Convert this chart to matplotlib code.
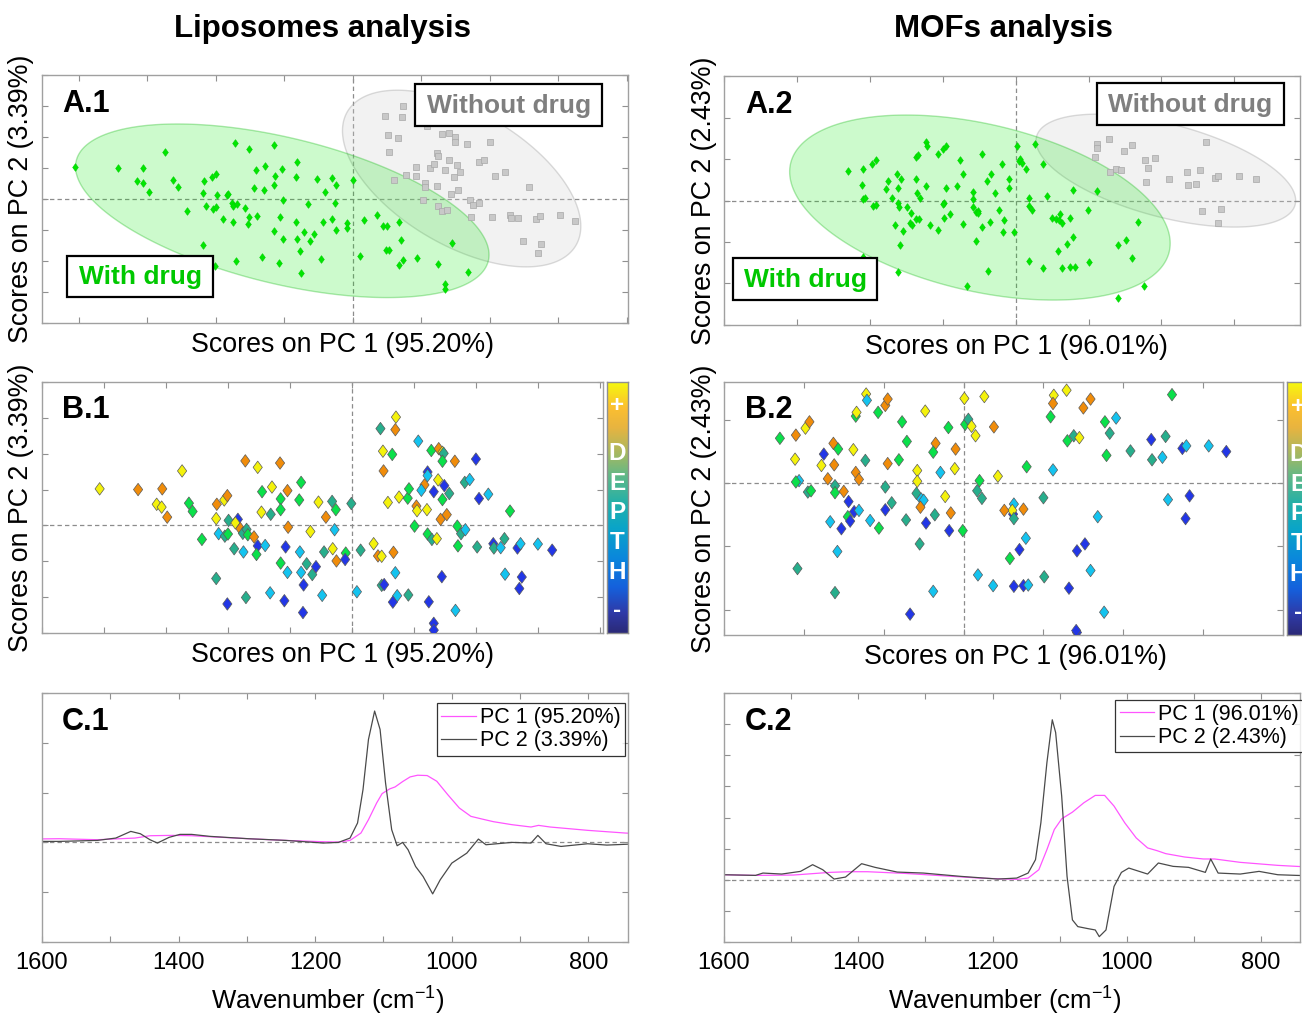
import numpy as np
import matplotlib
matplotlib.use('Agg')
import matplotlib.pyplot as plt
from matplotlib.path import Path
from matplotlib.patches import Polygon, Rectangle
from matplotlib.colors import LinearSegmentedColormap
from matplotlib.ticker import MultipleLocator, FuncFormatter

plt.rcParams['font.family'] = ['Liberation Sans', 'DejaVu Sans']
plt.rcParams['mathtext.fontset'] = 'custom'
plt.rcParams['mathtext.rm'] = 'Liberation Sans'

# ---------------- data ----------------
titles = ['Liposomes analysis', 'MOFs analysis']
pc1_var = ['95.20%', '96.01%']
pc2_var = ['3.39%', '2.43%']

# A.1 scores (liposomes)
a1_drug_x = [-4.06,-3.43,-3.06,-2.74,-3.15,-3.06,-2.97,-2.62,-2.55,-2.42,-2.19,-2.17,-2.15,-2.05,-2.00,-2.04,-2.00,-1.98,-1.90,-1.84,-1.83,-1.77,-1.75,-1.75,-1.72,-1.69,-1.57,-1.53,-1.52,-1.51,-1.45,-1.42,-1.40,-1.30,-1.28,-1.32,-1.15,-1.14,-1.15,-1.15,-1.08,-1.06,-1.04,-1.02,-1.02,-0.83,-0.82,-0.83,-0.81,-0.77,-0.76,-0.72,-0.65,-0.63,-0.56,-0.53,-0.47,-0.43,-0.41,-0.31,-0.30,-0.26,-0.25,-0.24,-0.09,-0.09,0.01,0.10,0.16,0.36,0.44,0.50,0.49,0.53,0.68,0.70,0.67,0.74,0.94,1.25,1.34,1.34,1.45,1.69,-2.19,-1.70,-2.02]
a1_drug_y = [1.02,0.99,1.01,1.52,0.59,0.52,0.23,0.62,0.39,-0.39,0.19,0.58,-0.23,0.71,0.82,-0.32,-0.26,0.13,-0.66,0.13,0.17,-0.13,-0.24,-0.75,1.80,-0.15,-0.30,-0.80,1.61,-0.57,0.35,0.94,-0.54,0.30,1.06,-1.87,1.74,0.74,0.45,-1.03,-2.08,-0.58,0.98,-0.04,-1.29,0.71,1.19,-0.74,-1.30,-1.67,-2.40,-1.08,-0.17,-1.37,-1.14,0.65,-1.94,-0.74,0.24,0.67,-0.65,-0.12,0.45,-0.99,-0.77,-0.95,0.60,-1.83,-0.69,-0.51,-0.86,-0.86,-1.66,-1.66,-0.75,-1.31,-2.12,-1.96,-1.91,-2.11,-2.74,-2.89,-1.42,-2.35,-1.47,-2.01,-2.17]
a1_nodrug_x = [0.74,0.47,0.72,1.09,0.51,0.66,1.30,1.41,1.49,1.49,1.67,2.01,0.53,1.23,1.24,1.41,1.84,1.92,0.93,1.13,1.19,1.34,1.52,1.57,1.48,0.77,0.92,0.60,1.06,1.06,1.23,1.44,1.54,2.08,2.22,2.57,1.03,1.71,1.76,1.85,1.24,1.31,1.38,1.73,2.03,2.30,2.31,2.42,2.68,2.73,3.02,3.24,2.48,2.75,2.71]
a1_nodrug_y = [3.01,2.69,2.66,2.34,2.06,1.97,2.11,2.12,1.99,1.84,1.78,1.85,1.53,1.49,1.39,1.27,1.20,1.27,1.04,0.99,1.12,0.95,1.09,0.88,0.71,0.77,0.75,0.62,0.52,0.40,0.43,0.16,0.28,0.74,0.86,0.40,-0.03,-0.02,-0.19,-0.14,-0.24,-0.39,-0.35,-0.57,-0.57,-0.52,-0.62,-0.61,-0.63,-0.54,-0.53,-0.70,-1.35,-1.44,-1.74]

# A.2 scores (MOFs)
a2_drug_x = [-2.30,-2.09,-1.97,-1.92,-2.11,-2.09,-2.07,-1.96,-1.91,-1.78,-1.75,-1.70,-1.63,-1.61,-1.62,-1.60,-1.57,-1.49,-1.44,-1.54,-1.66,-1.45,-1.42,-1.37,-1.37,-1.34,-1.35,-1.31,-1.36,-1.32,-1.23,-1.23,-1.22,-1.17,-1.07,-1.06,-0.99,-0.96,-0.98,-0.99,-0.98,-0.95,-0.90,-0.81,-0.77,-0.72,-0.72,-0.58,-0.58,-0.58,-0.55,-0.52,-0.51,-0.46,-0.46,-0.39,-0.34,-0.35,-0.29,-0.23,-0.19,-0.18,-0.16,-0.09,-0.09,-0.02,0.02,0.04,0.06,0.09,0.14,0.19,0.18,0.23,0.26,0.38,0.43,0.50,0.55,0.59,0.61,0.63,0.74,0.79,0.78,0.70,0.58,0.99,1.12,1.68,1.41,1.52,1.60,1.01,0.63,0.75,0.81,0.37,0.18,-0.38,-0.67,-0.55,-1.61,-1.58,-2.09,1.76,1.41]
a2_drug_y = [0.71,0.76,0.87,0.97,0.37,0.03,0.05,-0.14,-0.12,0.27,0.46,0.07,0.63,0.29,-0.05,-0.15,0.53,-0.15,-0.29,-0.73,-0.60,-0.55,-0.60,0.52,1.05,1.10,0.17,0.06,-0.44,-0.44,0.35,1.40,1.31,-0.60,1.12,-0.71,1.23,1.31,-0.05,-0.08,-0.42,0.29,-0.32,0.35,0.97,0.65,-0.57,0.20,0.03,-0.15,-0.27,-0.26,-0.31,1.13,-0.63,0.48,0.63,-0.51,0.18,-0.22,0.87,-0.76,-0.48,0.53,0.31,-0.77,1.32,0.94,0.99,0.91,0.75,0.05,-0.13,-0.24,1.37,0.89,0.10,-0.43,-0.44,-0.47,-0.32,-0.55,-0.41,0.26,-0.87,-1.06,-1.21,-0.24,0.22,-0.53,-1.07,-0.96,-1.39,-1.49,-1.63,-1.61,-1.61,-1.62,-1.45,-1.70,-2.06,-0.97,-1.73,-1.07,-1.35,-2.05,-2.35]
a2_nodrug_x = [1.12,1.28,1.11,1.09,1.48,1.60,1.77,1.91,1.82,1.38,1.45,1.30,1.79,2.10,2.35,2.53,2.36,2.48,2.61,2.74,2.78,3.07,3.29,2.55,2.82,2.78]
a2_nodrug_y = [1.37,1.47,1.27,1.05,1.19,1.33,0.97,1.02,0.78,0.76,0.73,0.68,0.44,0.52,0.69,0.74,0.37,0.40,1.40,0.55,0.59,0.58,0.51,-0.26,-0.20,-0.55]

# confidence ellipses (centre, covariance) per group
a1_drug_centre, a1_drug_cov = (-1.03, -0.38), [[9.12, -4.29], [-4.29, 7.84]]
a1_nodrug_centre, a1_nodrug_cov = (1.59, 0.66), [[3.03, -2.68], [-2.68, 8.12]]
a2_drug_centre, a2_drug_cov = (-0.49, -0.17), [[6.81, -2.25], [-2.25, 4.97]]
a2_nodrug_centre, a2_nodrug_cov = (2.06, 0.72), [[3.17, -1.28], [-1.28, 1.85]]

# B.1 scores coloured by depth (1 = deep ... 6 = shallow)
b1_x = [-4.07,-3.45,-3.06,-3.15,-3.07,-2.98,-2.74,-2.63,-2.57,-2.42,-2.18,-2.19,-2.06,-2.01,-1.99,-2.15,-2.05,-2.00,-1.84,-1.88,-1.80,-1.76,-1.70,-1.68,-1.58,-1.72,-1.52,-1.45,-1.29,-1.46,-1.31,-1.16,-1.04,-1.15,-1.15,-1.03,-0.82,-0.85,-1.90,-1.75,-1.52,-1.54,-1.40,-1.07,-0.84,-1.15,-1.04,-0.82,-0.73,-0.64,-0.58,-0.78,-0.79,-1.09,-1.32,-1.71,-2.01,-2.19,-0.54,-0.32,-0.26,-0.42,-0.28,-0.67,-0.45,-0.31,-0.25,-0.10,-0.11,-0.48,-0.01,0.08,0.14,0.35,0.42,0.48,0.67,0.46,0.71,0.70,0.50,0.65,0.51,0.58,0.76,0.90,0.92,1.04,1.05,1.21,1.01,1.07,1.28,1.40,1.46,1.48,1.46,1.22,1.22,1.17,1.12,1.32,1.39,1.49,1.57,1.46,1.43,1.53,1.66,1.70,1.76,1.83,1.82,1.90,2.00,2.05,2.20,2.55,1.22,1.29,1.37,1.71,2.02,2.28,2.29,2.40,2.46,2.67,2.72,3.00,3.23,2.47,2.74,2.70,0.70,0.48,0.52,0.73,0.91,0.66,1.24,1.45,1.67,1.32,1.32]
b1_y = [1.02,1.00,1.02,0.59,0.51,0.23,1.52,0.62,0.39,-0.39,0.59,0.19,0.71,0.83,0.14,-0.23,-0.30,-0.24,0.17,0.07,-0.09,-0.22,-0.11,-0.26,-0.32,1.80,1.62,0.94,1.07,0.37,0.31,1.74,0.97,0.74,0.44,-0.05,1.20,0.71,-0.65,-0.74,-0.57,-0.81,-0.56,-0.60,-0.74,-1.05,-1.31,-1.31,-1.07,-1.37,-1.15,-1.66,-2.43,-2.10,-1.88,-2.01,-2.19,-1.48,0.65,0.67,0.44,0.23,-0.12,-0.17,-0.74,-0.65,-0.99,-0.77,-0.95,-1.95,0.61,-1.85,-0.69,-0.51,-0.85,-0.86,-0.75,2.70,3.02,2.67,2.07,1.98,1.52,0.64,0.79,0.76,1.02,0.54,0.41,0.44,-0.02,2.35,2.09,2.14,2.04,2.01,1.79,1.49,1.39,1.13,0.98,0.94,1.27,1.11,0.89,0.72,0.17,0.30,1.79,-0.02,-0.23,-0.12,1.20,1.28,1.85,0.75,0.87,0.40,-0.24,-0.39,-0.37,-0.57,-0.60,-0.51,-0.63,-0.62,-0.37,-0.63,-0.51,-0.52,-0.69,-1.36,-1.44,-1.76,-1.32,-1.67,-1.65,-1.96,-1.94,-2.14,-2.13,-1.43,-2.37,-2.73,-2.92]
b1_depth = [6,5,5,6,6,5,6,4,4,4,5,6,6,5,3,2,3,4,1,6,5,3,3,4,5,5,6,4,6,6,3,5,5,4,4,5,4,4,3,2,1,4,2,1,2,4,2,2,3,3,1,1,1,1,2,3,1,3,6,3,4,5,2,6,3,6,5,4,1,2,3,2,3,6,5,6,5,3,6,5,6,4,5,6,6,4,4,5,6,6,4,2,4,5,6,3,4,1,2,5,2,1,6,1,3,4,5,5,5,4,3,2,3,2,1,1,2,4,4,3,6,4,3,1,3,2,3,1,2,2,1,2,1,1,2,3,1,2,3,1,1,1,2,1,1]

# B.2 scores coloured by depth
b2_x = [-2.30,-2.10,-1.98,-1.93,-2.11,-1.78,-1.75,-1.63,-1.57,-1.62,-1.38,-1.23,-1.35,-1.34,-1.22,-1.21,-1.07,-0.98,-0.95,-0.77,-0.71,-0.48,-0.35,-0.38,-0.19,-0.10,-0.11,-0.29,-0.58,-0.58,-0.81,-0.95,-1.35,-1.31,-1.70,-2.06,-2.10,-1.95,-1.91,-1.61,-1.61,-1.50,-1.44,-1.37,-1.31,-1.45,-1.42,-1.53,-1.67,-1.17,-1.06,-0.98,-0.98,-0.90,-0.72,-0.59,-0.53,-0.50,-0.54,-0.36,-0.47,-0.23,-0.16,-0.18,-0.01,-0.55,-1.58,-2.08,-1.61,-0.38,-0.67,0.01,0.26,0.02,0.06,0.10,0.15,0.38,0.20,0.17,0.23,0.43,0.79,1.12,0.63,0.62,0.61,0.63,0.51,0.75,1.00,0.78,0.70,0.58,0.18,0.37,0.63,0.75,0.81,1.01,1.32,1.42,1.52,1.59,1.68,1.76,1.42,1.41,1.13,1.12,1.29,1.59,1.50,1.09,1.30,1.38,1.45,1.77,1.83,1.91,1.79,2.09,2.35,2.36,2.49,2.53,2.61,2.74,2.79,3.07,3.29,2.56,2.83,2.78]
b2_y = [0.71,0.76,0.87,0.97,0.38,0.28,0.46,0.63,0.54,0.29,0.53,0.36,1.06,1.12,1.41,1.31,1.12,1.23,1.33,0.97,0.66,1.14,0.63,0.49,0.88,0.54,0.23,0.17,0.20,0.03,0.37,0.31,0.17,0.06,0.07,0.04,0.02,-0.14,-0.12,-0.04,-0.15,-0.13,-0.29,-0.45,-0.43,-0.53,-0.60,-0.72,-0.61,-0.59,-0.71,-0.42,-0.06,-0.31,-0.58,-0.16,-0.25,-0.27,-0.38,-0.50,-0.63,-0.21,-0.47,-0.75,-0.75,-0.96,-1.08,-1.35,-1.73,-1.71,-2.07,1.34,1.37,0.93,1.01,0.90,0.75,0.89,0.04,-0.12,-0.24,0.11,0.26,0.21,-0.33,-0.49,-0.43,-0.56,-0.43,-0.41,-0.23,-0.87,-1.05,-1.19,-1.45,-1.62,-1.63,-1.62,-1.61,-1.48,-1.66,-1.07,-0.96,-1.38,-0.53,-2.04,-2.36,-2.33,1.39,1.26,1.47,1.33,1.19,1.05,0.67,0.75,0.72,0.97,0.79,1.03,0.44,0.51,0.69,0.37,0.41,0.74,1.40,0.55,0.59,0.59,0.50,-0.26,-0.20,-0.56]
b2_depth = [4,5,6,5,6,6,1,5,4,5,6,3,4,6,6,2,4,5,5,4,4,6,5,4,4,5,6,2,6,6,4,5,5,5,5,2,4,3,4,3,4,5,1,1,2,4,1,1,2,2,4,1,3,3,3,3,2,2,5,3,1,6,5,1,4,3,2,3,3,2,1,6,6,4,3,6,6,5,4,3,3,6,4,2,2,1,6,3,5,5,3,2,1,4,2,2,1,1,2,3,1,1,1,2,2,2,1,1,6,5,6,5,5,4,4,3,6,4,3,2,4,3,1,3,2,3,4,1,2,2,1,2,1,1]

depth_colors = {6: '#f4f20c', 5: '#f08c0a', 4: '#0ae04a', 3: '#27ae8c', 2: '#14c3ef', 1: '#2236e6'}
depth_letters = ['+', 'D', 'E', 'P', 'T', 'H', '-']

# C loadings
c1_wn = [1600,1575,1519,1492,1470,1456,1442,1431,1414,1398,1381,1354,1298,1243,1188,1166,1149,1138,1130,1122,1113,1105,1097,1088,1080,1072,1064,1053,1042,1028,1017,1000,978,961,950,912,884,874,862,840,801,773,727]
c1_pc2 = [0.002,0.002,0.004,0.0087,0.0221,0.0174,0.0054,-0.0013,0.0101,0.0161,0.0161,0.0121,0.0074,0.004,-0.0013,0.0,0.0087,0.0389,0.106,0.2067,0.2638,0.2268,0.1195,0.0255,-0.0067,0.0,-0.0148,-0.0483,-0.0685,-0.1034,-0.0752,-0.0416,-0.0215,0.0067,-0.0047,0.0,-0.0013,0.0141,-0.0027,-0.0081,-0.0027,-0.0054,-0.0027]
c1_wn_pc1 = [1600,1575,1519,1464,1442,1409,1381,1354,1298,1243,1188,1166,1149,1133,1122,1110,1102,1091,1083,1072,1061,1050,1036,1022,1006,989,972,956,939,912,884,873,856,801,746,727]
c1_pc1 = [0.007,0.0074,0.0054,0.0087,0.0134,0.0141,0.0134,0.0114,0.0074,0.004,0.0013,0.0007,0.004,0.0188,0.0456,0.0792,0.098,0.1074,0.1114,0.1221,0.1315,0.1349,0.1342,0.1228,0.096,0.0691,0.0523,0.047,0.0416,0.0356,0.0309,0.0342,0.0309,0.0242,0.0188,0.0174]

c2_wn_pc1 = [1600,1553,1497,1442,1414,1386,1331,1275,1219,1164,1147,1131,1119,1108,1097,1081,1064,1047,1033,1019,1003,986,969,955,942,914,886,869,831,775,747,727]
c2_pc1 = [0.0161,0.014,0.0151,0.0237,0.0258,0.0258,0.0204,0.0129,0.0054,0.0011,0.0054,0.0323,0.0968,0.1613,0.1957,0.2172,0.2473,0.271,0.271,0.2366,0.1828,0.1344,0.1022,0.0935,0.0839,0.0731,0.0667,0.0667,0.0559,0.0462,0.043,0.041]
c2_wn = [1600,1553,1542,1514,1486,1468,1453,1436,1419,1395,1375,1342,1303,1247,1192,1164,1147,1136,1128,1119,1111,1106,1097,1089,1081,1073,1058,1047,1041,1031,1019,1008,997,969,953,931,908,883,875,864,831,803,775,747,727]
c2_pc2 = [0.0161,0.014,0.0215,0.0183,0.0269,0.0484,0.0323,0.0022,0.0086,0.0516,0.0398,0.0247,0.0215,0.0108,0.0022,0.0054,0.0215,0.0645,0.1828,0.3763,0.514,0.4731,0.2688,0.0108,-0.129,-0.1505,-0.157,-0.1613,-0.1828,-0.1613,-0.0215,0.0237,0.0376,0.0183,0.0538,0.043,0.0398,0.0237,0.0667,0.0215,0.0183,0.0269,0.0161,0.014,0.013]

# ---------------- figure ----------------
W, H = 1302, 1015
fig = plt.figure(figsize=(W / 100, H / 100), dpi=100)

def add_ax(l, t, r, b):
    return fig.add_axes([l / W, 1 - b / H, (r - l) / W, (b - t) / H])

def fx(p): return p / W
def fy(p): return 1 - p / H

FRAME = '#a0a0a0'
DASH = '#8c8c8c'
LABEL_FS = 19.3

def style(ax):
    for s in ax.spines.values():
        s.set_color(FRAME)
        s.set_linewidth(1.0)
    ax.tick_params(which='both', direction='in', top=True, right=True, length=4.5,
                   width=0.8, color='#909090', labelbottom=False, labelleft=False)

diamond = Path([(0, 1), (0.74, 0), (0, -1), (-0.74, 0), (0, 1)],
               [Path.MOVETO, Path.LINETO, Path.LINETO, Path.LINETO, Path.CLOSEPOLY])

def ellipse(ax, centre, cov, fc, ec):
    vals, vecs = np.linalg.eigh(np.array(cov, dtype=float))
    t = np.linspace(0, 2 * np.pi, 300)
    circ = np.vstack([np.cos(t), np.sin(t)])
    pts = (vecs @ np.diag(np.sqrt(vals)) @ circ).T + np.array(centre)
    ax.add_patch(Polygon(pts, closed=True, facecolor=fc, edgecolor=ec, lw=1.0, zorder=1))

def label_box(ax, x0, y0, x1, y1, text, color):
    ax.add_patch(Rectangle((x0, y0), x1 - x0, y1 - y0, transform=ax.transAxes,
                           facecolor='white', edgecolor='black', lw=1.6, zorder=5))
    ax.text((x0 + x1) / 2, (y0 + y1) / 2 - 0.005, text, transform=ax.transAxes, ha='center',
            va='center', fontsize=19, fontweight='bold', color=color, zorder=6)

def dashes(ax, vertical=True):
    ax.axhline(0, color=DASH, lw=0.9, ls=(0, (3.5, 2.5)), zorder=0.5)
    if vertical:
        ax.axvline(0, color=DASH, lw=0.9, ls=(0, (3.5, 2.5)), zorder=0.5)

def score_labels(ax, i, xl, yl_x, yl_y):
    ax.set_xlabel(f'Scores on PC 1 ({pc1_var[i]})', fontsize=LABEL_FS)
    ax.set_ylabel(f'Scores on PC 2 ({pc2_var[i]})', fontsize=LABEL_FS)
    ax.xaxis.set_label_coords(xl[0], xl[1])
    ax.xaxis.label.set_va('center')
    ax.yaxis.set_label_coords(yl_x, yl_y)
    ax.yaxis.label.set_va('center')

parula = LinearSegmentedColormap.from_list('parula_like', [
    (0.00, '#2b2a78'), (0.08, '#2f3aa8'), (0.18, '#1560dc'), (0.30, '#0a88dc'),
    (0.42, '#0aa5c8'), (0.52, '#25b0a8'), (0.62, '#5cb88a'), (0.72, '#a8b860'),
    (0.82, '#e8b440'), (0.90, '#fbbf30'), (1.00, '#f6f80e')])

def depth_bar(l, t, r, b):
    cax = add_ax(l, t, r, b)
    grad = np.linspace(0, 1, 256).reshape(-1, 1)
    cax.imshow(grad, aspect='auto', cmap=parula, origin='lower', extent=(0, 1, 0, 1))
    cax.set_xticks([]); cax.set_yticks([])
    for s in cax.spines.values():
        s.set_color('#909090'); s.set_linewidth(1.0)
    ys = [0.905, 0.715, 0.595, 0.48, 0.36, 0.24, 0.09]
    for letter, yy in zip(depth_letters, ys):
        cax.text(0.5, yy, letter, transform=cax.transAxes, ha='center', va='center',
                 color='white', fontsize=17.5, fontweight='bold')
    return cax

# ---- A.1 ----
ax = add_ax(42, 75, 628, 323)
style(ax)
ax.set_xlim(-4.54, 4.02); ax.set_ylim(-4, 4)
ax.xaxis.set_major_locator(MultipleLocator(1)); ax.yaxis.set_major_locator(MultipleLocator(1))
dashes(ax)
ellipse(ax, a1_nodrug_centre, a1_nodrug_cov, (0.82, 0.82, 0.82, 0.28), (0.6, 0.6, 0.6, 0.35))
ellipse(ax, a1_drug_centre, a1_drug_cov, (0.0, 0.9, 0.0, 0.2), (0.0, 0.7, 0.0, 0.3))
ax.plot(a1_nodrug_x, a1_nodrug_y, 's', ms=4, mfc='#c8c8c8', mec='#a8a8a8', mew=0.5, ls='none', zorder=3)
ax.plot(a1_drug_x, a1_drug_y, marker=diamond, ms=5.5, mfc='#00e600', mec='#00d000', mew=0.4, ls='none', zorder=3)
label_box(ax, 0.637, 0.796, 0.956, 0.964, 'Without drug', '#7f7f7f')
label_box(ax, 0.043, 0.105, 0.292, 0.272, 'With drug', '#00c800')
score_labels(ax, 0, (0.512, -0.089), -0.036, 0.5)

# ---- A.2 ----
ax = add_ax(724, 76, 1300, 325)
style(ax)
ax.set_xlim(-4.0, 3.9); ax.set_ylim(-3, 3)
ax.xaxis.set_major_locator(MultipleLocator(1)); ax.yaxis.set_major_locator(MultipleLocator(1))
dashes(ax)
ellipse(ax, a2_nodrug_centre, a2_nodrug_cov, (0.82, 0.82, 0.82, 0.28), (0.6, 0.6, 0.6, 0.35))
ellipse(ax, a2_drug_centre, a2_drug_cov, (0.0, 0.9, 0.0, 0.2), (0.0, 0.7, 0.0, 0.3))
ax.plot(a2_nodrug_x, a2_nodrug_y, 's', ms=4, mfc='#c8c8c8', mec='#a8a8a8', mew=0.5, ls='none', zorder=3)
ax.plot(a2_drug_x, a2_drug_y, marker=diamond, ms=5.5, mfc='#00e600', mec='#00d000', mew=0.4, ls='none', zorder=3)
label_box(ax, 0.648, 0.803, 0.972, 0.972, 'Without drug', '#7f7f7f')
label_box(ax, 0.016, 0.10, 0.266, 0.268, 'With drug', '#00c800')
score_labels(ax, 1, (0.507, -0.088), -0.034, 0.5)

# ---- B.1 ----
ax = add_ax(42, 382, 603, 633)
style(ax)
ax.set_xlim(-5.0, 4.05); ax.set_ylim(-3, 4)
ax.xaxis.set_major_locator(MultipleLocator(1)); ax.yaxis.set_major_locator(MultipleLocator(1))
dashes(ax)
ax.scatter(b1_x, b1_y, c=[depth_colors[d] for d in b1_depth], marker=diamond, s=9 ** 2,
           edgecolors='#5a5a5a', linewidths=0.5, zorder=3)
score_labels(ax, 0, (0.535, -0.088), -0.038, 0.5)
depth_bar(607, 382, 628, 633)

# ---- B.2 ----
ax = add_ax(724, 382, 1283, 635)
style(ax)
ax.set_xlim(-3.0, 4.0); ax.set_ylim(-2.4, 1.6)
ax.xaxis.set_major_locator(MultipleLocator(1)); ax.yaxis.set_major_locator(MultipleLocator(1))
dashes(ax)
ax.scatter(b2_x, b2_y, c=[depth_colors[d] for d in b2_depth], marker=diamond, s=9 ** 2,
           edgecolors='#5a5a5a', linewidths=0.5, zorder=3)
score_labels(ax, 1, (0.522, -0.087), -0.035, 0.5)
depth_bar(1287, 382, 1309, 635)

# ---- C panels ----
def loadings(ax, wn1, pc1, wn2, pc2, i, ylim, leg_anchor):
    style(ax)
    ax.set_xlim(1600, 742); ax.set_ylim(*ylim)
    ax.xaxis.set_major_locator(MultipleLocator(100))
    ax.yaxis.set_major_locator(MultipleLocator(0.1))
    ax.xaxis.set_major_formatter(FuncFormatter(lambda v, p: f'{int(round(v))}' if round(v) % 200 == 0 else ''))
    ax.tick_params(axis='x', labelbottom=True, labelsize=17, pad=7)
    dashes(ax, vertical=False)
    l1, = ax.plot(wn1, pc1, color='#ff55ff', lw=0.9, label=f'PC 1 ({pc1_var[i]})')
    l2, = ax.plot(wn2, pc2, color='#4a4a4a', lw=0.9, label=f'PC 2 ({pc2_var[i]})')
    leg = ax.legend(handles=[l1, l2], loc='upper right', bbox_to_anchor=leg_anchor,
                    borderaxespad=0, fontsize=15.5, frameon=True, fancybox=False,
                    handlelength=1.6, handletextpad=0.2, labelspacing=0.1, borderpad=0.2)
    leg.get_frame().set_edgecolor('black'); leg.get_frame().set_linewidth(0.9)
    ax.set_xlabel(r'Wavenumber (cm$^{\mathregular{-1}}$)', fontsize=18.5)
    ax.xaxis.set_label_coords(0.488, -0.233)
    ax.xaxis.label.set_va('center')

ax = add_ax(42, 693, 628, 942)
loadings(ax, c1_wn_pc1, c1_pc1, c1_wn, c1_pc2, 0, (-0.2, 0.3), (0.995, 0.96))
ax = add_ax(724, 693, 1300, 942)
loadings(ax, c2_wn_pc1, c2_pc1, c2_wn, c2_pc2, 1, (-0.2, 0.6), (1.006, 0.973))

# ---- titles and panel tags ----
fig.text(fx(322), fy(29), titles[0], ha='center', va='center', fontsize=22.5, fontweight='bold')
fig.text(fx(1003), fy(29), titles[1], ha='center', va='center', fontsize=22.5, fontweight='bold')
for tag, x, y in [('A.1', 62, 104), ('A.2', 745, 105), ('B.1', 62, 410), ('B.2', 745, 410),
                  ('C.1', 62, 722), ('C.2', 745, 722)]:
    fig.text(fx(x), fy(y), tag, ha='left', va='center', fontsize=22, fontweight='bold')

fig.savefig('out.png', dpi=100)
